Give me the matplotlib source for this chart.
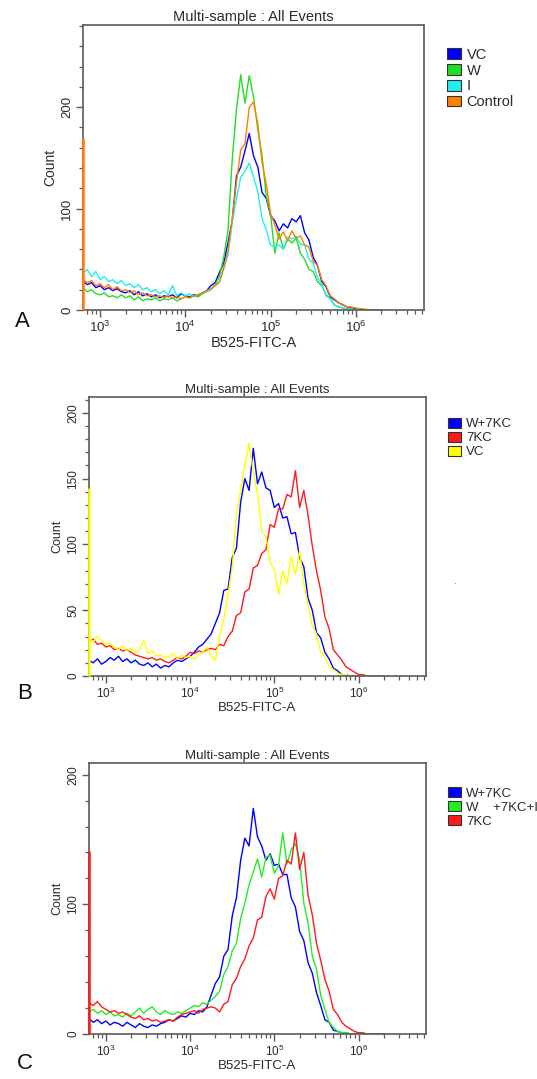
import numpy as np
import matplotlib
matplotlib.use('Agg')
import matplotlib.pyplot as plt
from matplotlib.patches import Patch
from matplotlib.ticker import MultipleLocator, LogLocator, NullFormatter

plt.rcParams['font.family'] = 'Liberation Sans'
plt.rcParams['mathtext.fontset'] = 'custom'
plt.rcParams['mathtext.rm'] = 'Liberation Sans'
plt.rcParams['mathtext.it'] = 'Liberation Sans:italic'

# histogram channels, log10 of B525-FITC-A intensity (2.80 ... 6.30)
log_channel = np.round(np.arange(2.80, 6.30 + 0.001, 0.05), 2)

# ---- panel A counts ----
a_names = ['VC', 'W', 'I', 'Control']
a_vc = [28, 25, 27, 22, 24, 20, 22, 19, 21, 18,
        17, 19, 15, 18, 14, 16, 13, 15, 12, 14,
        13, 15, 12, 16, 14, 13, 15, 14, 17, 19,
        24, 27, 37, 46, 66, 88, 132, 141, 157, 174,
        152, 141, 116, 110, 93, 88, 78, 85, 81, 90,
        87, 93, 76, 69, 52, 44, 28, 23, 13, 10,
        7, 5, 3, 2, 1, 1, 0, 0, 0, 0, 0]
a_w = [22, 18, 20, 16, 15, 17, 13, 14, 12, 15,
       12, 14, 10, 13, 9, 11, 10, 12, 9, 11,
       10, 12, 9, 11, 13, 12, 14, 13, 16, 18,
       20, 25, 33, 52, 78, 148, 198, 232, 204, 231,
       210, 178, 152, 112, 94, 56, 76, 60, 70, 66,
       71, 56, 50, 40, 38, 28, 24, 15, 11, 5,
       3, 2, 1, 1, 0, 0, 0, 0, 0, 0, 0]
a_i = [36, 40, 33, 38, 30, 33, 28, 30, 26, 29,
       24, 26, 22, 25, 20, 22, 18, 20, 16, 19,
       15, 24, 14, 17, 14, 16, 13, 15, 17, 18,
       20, 24, 27, 40, 54, 86, 110, 131, 137, 145,
       131, 117, 90, 79, 64, 62, 64, 60, 72, 70,
       73, 65, 64, 50, 46, 32, 26, 14, 11, 5,
       3, 2, 1, 1, 0, 0, 0, 0, 0, 0, 0]
a_control = [30, 27, 29, 24, 26, 22, 25, 20, 23, 19,
             20, 17, 19, 15, 17, 14, 15, 13, 14, 12,
             14, 12, 13, 11, 13, 12, 14, 15, 17, 19,
             21, 24, 28, 42, 58, 90, 126, 158, 164, 200,
             205, 184, 146, 124, 95, 84, 70, 77, 68, 78,
             71, 73, 64, 62, 48, 44, 30, 24, 14, 11,
             7, 5, 3, 3, 2, 1, 1, 0, 0, 0, 0]
a_edge = [0, 0, 0, 170]   # events piled in the first channel

# ---- panel B counts ----
b_names = ['W+7KC', '7KC', 'VC']
b_w7kc = [12, 10, 13, 9, 11, 14, 12, 15, 11, 13,
          10, 12, 9, 8, 10, 7, 9, 6, 8, 7,
          10, 12, 11, 13, 15, 18, 22, 24, 28, 32,
          40, 48, 65, 66, 90, 97, 132, 150, 141, 173,
          146, 155, 143, 141, 128, 131, 120, 121, 108, 109,
          90, 83, 59, 50, 33, 29, 18, 13, 6, 4,
          1, 1, 0, 0, 0, 0, 0, 0, 0, 0, 0]
b_7kc = [26, 28, 24, 25, 22, 23, 20, 21, 19, 20,
         18, 16, 15, 14, 13, 14, 12, 13, 11, 10,
         12, 14, 13, 15, 18, 17, 19, 18, 20, 21,
         20, 24, 23, 30, 34, 46, 48, 64, 66, 82,
         84, 93, 96, 115, 113, 127, 127, 138, 136, 156,
         128, 141, 122, 99, 80, 65, 45, 36, 20, 16,
         12, 7, 5, 3, 1, 1, 0, 0, 0, 0, 0]
b_vc = [29, 26, 30, 27, 24, 25, 22, 20, 23, 19,
        21, 18, 20, 27, 17, 19, 15, 16, 14, 15,
        17, 13, 16, 14, 15, 13, 16, 18, 22, 15,
        12, 30, 43, 62, 82, 123, 141, 160, 177, 155,
        138, 110, 106, 86, 81, 62, 80, 70, 91, 77,
        95, 70, 54, 38, 32, 18, 15, 7, 5, 2,
        1, 1, 0, 0, 0, 0, 0, 0, 0, 0, 0]
b_edge = [0, 0, 143]

# ---- panel C counts ----
c_names = ['W+7KC', 'W    +7KC+I', '7KC']
c_w7kc = [12, 9, 11, 8, 10, 7, 9, 8, 6, 9,
          7, 5, 8, 6, 5, 7, 6, 8, 9, 11,
          10, 12, 14, 13, 16, 15, 18, 17, 21, 30,
          39, 44, 60, 65, 91, 105, 134, 151, 145, 174,
          152, 145, 134, 139, 130, 131, 123, 123, 105, 98,
          79, 72, 55, 47, 32, 22, 11, 9, 3, 2,
          1, 1, 0, 0, 0, 0, 0, 0, 0, 0, 0]
c_w7kci = [17, 19, 16, 18, 15, 17, 14, 15, 13, 16,
           14, 17, 20, 16, 19, 21, 17, 15, 18, 16,
           15, 17, 16, 18, 20, 22, 21, 24, 23, 26,
           29, 33, 46, 52, 64, 70, 89, 101, 115, 125,
           135, 121, 136, 138, 124, 130, 155, 131, 142, 147,
           134, 101, 86, 60, 50, 30, 19, 9, 5, 2,
           1, 1, 0, 0, 0, 0, 0, 0, 0, 0, 0]
c_7kc = [24, 22, 25, 21, 19, 17, 18, 16, 17, 15,
         13, 12, 14, 11, 12, 10, 11, 9, 10, 11,
         10, 13, 15, 16, 17, 18, 16, 19, 20, 21,
         20, 17, 23, 25, 38, 43, 52, 58, 68, 74,
         88, 90, 106, 112, 104, 120, 122, 134, 131, 155,
         127, 140, 107, 92, 70, 57, 42, 33, 19, 15,
         9, 6, 4, 2, 1, 1, 0, 0, 0, 0, 0]
c_edge = [0, 0, 141]

x_ticks = [1e3, 1e4, 1e5, 1e6]
x_ticklabels = [r'$10^{3}$', r'$10^{4}$', r'$10^{5}$', r'$10^{6}$']
title = 'Multi-sample : All Events'

frame = '#5a5a5a'
txt = '#2a2a2a'

fig = plt.figure(figsize=(5.37, 10.79), dpi=100)


def panel(rect, series, names, colors, edge, ymax, major, minor, fs, leg_xy, leg_fs):
    ax = fig.add_axes(rect)
    x = 10 ** log_channel
    xmin = 10 ** 2.8
    for s, c, e in zip(series, colors, edge):
        ax.plot(x, s, color=c, lw=1.0)
        if e > 0:
            ax.plot([xmin * 1.006, xmin * 1.006], [0, e], color=c, lw=1.8,
                    zorder=3, clip_on=False, solid_capstyle='butt')
    ax.set_xscale('log')
    ax.set_xlim(xmin, 10 ** 6.8)
    ax.set_ylim(0, ymax)
    ax.set_xticks(x_ticks)
    ax.set_xticklabels(x_ticklabels)
    ax.xaxis.set_minor_locator(LogLocator(base=10, subs=np.arange(2, 10), numticks=20))
    ax.xaxis.set_minor_formatter(NullFormatter())
    ax.yaxis.set_major_locator(MultipleLocator(major))
    ax.yaxis.set_minor_locator(MultipleLocator(minor))
    ax.tick_params(which='major', direction='out', length=5, width=1.0, color=frame,
                   labelsize=fs - 1, labelcolor=txt, pad=2)
    ax.tick_params(which='minor', direction='out', length=3, width=0.9, color=frame)
    ax.tick_params(axis='y', labelrotation=90)
    for lab in ax.get_yticklabels():
        lab.set_va('center')
    for sp in ax.spines.values():
        sp.set_color(frame)
        sp.set_linewidth(1.2)
    ax.set_title(title, fontsize=fs, color=txt, pad=3)
    ax.set_xlabel('B525-FITC-A', fontsize=fs, color=txt, labelpad=1)
    ax.set_ylabel('Count', fontsize=fs - 0.5, color=txt, labelpad=3)
    handles = [Patch(facecolor=c, edgecolor='#333333', lw=0.8) for c in colors]
    ax.legend(handles, names, loc='upper left', bbox_to_anchor=leg_xy, frameon=False,
              fontsize=leg_fs, handlelength=1.0, handleheight=0.75, handletextpad=0.35,
              labelspacing=0.12, borderaxespad=0, borderpad=0, labelcolor=txt)
    return ax


panel([0.1546, 0.7127, 0.635, 0.2641], [a_vc, a_w, a_i, a_control], a_names,
      ['#0000ff', '#22dd22', '#22eeee', '#ff7f00'], a_edge, 281, 100, 20, 10.5,
      (1.067, 0.92), 10.5)
panel([0.1657, 0.3735, 0.6276, 0.2586], [b_w7kc, b_7kc, b_vc], b_names,
      ['#0000ff', '#ff1a1a', '#ffff00'], b_edge, 212, 50, 10, 9.5,
      (1.066, 0.925), 9.5)
panel([0.1657, 0.0417, 0.6276, 0.2512], [c_w7kc, c_w7kci, c_7kc], c_names,
      ['#0000ff', '#22ee22', '#ff1a1a'], c_edge, 209, 100, 20, 9.5,
      (1.066, 0.91), 9.5)

fig.text(0.041, 0.7016, 'A', fontsize=16, ha='center', va='center', color='#111111')
fig.text(0.0466, 0.3577, 'B', fontsize=16, ha='center', va='center', color='#111111')
fig.text(0.0466, 0.0148, 'C', fontsize=16, ha='center', va='center', color='#111111')
fig.text(0.847, 0.4605, '.', fontsize=6, ha='center', va='center', color='#444444')

fig.savefig('out.png', dpi=100)
